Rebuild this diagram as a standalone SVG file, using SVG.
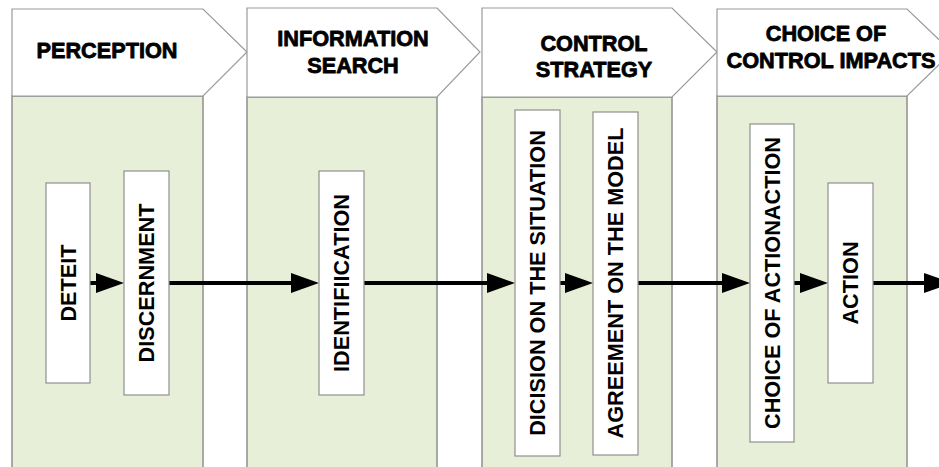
<svg xmlns="http://www.w3.org/2000/svg" width="939" height="467" viewBox="0 0 939 467">
  <defs>
    <style>
      .body { fill: #e8efd8; stroke: #8f8f8f; stroke-width: 1.5; }
      .head { fill: #ffffff; stroke: #9a9a9a; stroke-width: 1.2; }
      .box { fill: #ffffff; stroke: #8f8f8f; stroke-width: 1.2; }
      .t { font-family: "Liberation Sans", Arial, sans-serif; font-weight: bold; font-size: 21.7px; fill: #000; text-anchor: middle; }
      .h { stroke: #000; stroke-width: 0.8; stroke-linejoin: round; }
      .conn { stroke: #000; stroke-width: 4; fill: none; marker-end: url(#ah); }
    </style>
    <marker id="ah" markerUnits="userSpaceOnUse" markerWidth="28" markerHeight="20" refX="14" refY="10" orient="auto">
      <path d="M0,0 L28,10 L0,20 z" fill="#000"/>
    </marker>
  </defs>
  <rect width="939" height="467" fill="#ffffff"/>

  <g id="stage-perception">
    <rect class="body" x="12" y="96" width="191" height="380"/>
    <polygon class="head" points="12,9 203,9 247,52 203,96 12,96"/>
    <text class="t h" x="107" y="58">PERCEPTION</text>
  </g>
  <g id="stage-information-search">
    <rect class="body" x="247" y="97" width="190" height="380"/>
    <polygon class="head" points="247,8 437,8 480,52 437,97 247,97"/>
    <text class="t h" x="353" y="46">INFORMATION</text>
    <text class="t h" x="353" y="73">SEARCH</text>
  </g>
  <g id="stage-control-strategy">
    <rect class="body" x="482" y="97" width="190" height="380"/>
    <polygon class="head" points="482,8 672,8 717,52 672,97 482,97"/>
    <text class="t h" x="594" y="51">CONTROL</text>
    <text class="t h" x="594" y="77">STRATEGY</text>
  </g>
  <g id="stage-choice-of-control-impacts">
    <rect class="body" x="717" y="96" width="190" height="380"/>
    <polygon class="head" points="717,9 907,9 952,52 907,96 717,96"/>
    <text class="t h" x="826" y="41">CHOICE OF</text>
    <text class="t h" x="831" y="68">CONTROL IMPACTS</text>
  </g>

  <g id="connectors">
    <line class="conn" x1="89" y1="283" x2="110" y2="283" stroke-linecap="round"/>
    <line class="conn" x1="169" y1="283" x2="305" y2="283"/>
    <line class="conn" x1="364" y1="283" x2="501" y2="283"/>
    <line class="conn" x1="560" y1="283" x2="579" y2="283" stroke-linecap="round"/>
    <line class="conn" x1="638" y1="283" x2="736" y2="283"/>
    <line class="conn" x1="794" y1="283" x2="814" y2="283" stroke-linecap="round"/>
    <line class="conn" x1="873" y1="283" x2="938" y2="283"/>
  </g>

  <g id="node-deteit">
    <rect class="box" x="46" y="183" width="44" height="200"/>
    <text class="t" transform="translate(75.8,283) rotate(-90)">DETEIT</text>
  </g>
  <g id="node-discernment">
    <rect class="box" x="124" y="171" width="45" height="224"/>
    <text class="t" transform="translate(154.3,283) rotate(-90)">DISCERNMENT</text>
  </g>
  <g id="node-identification">
    <rect class="box" x="319" y="171" width="45" height="224"/>
    <text class="t" transform="translate(349.3,283) rotate(-90)">IDENTIFIICATION</text>
  </g>
  <g id="node-decision">
    <rect class="box" x="515" y="110" width="45" height="346"/>
    <text class="t" transform="translate(545.3,283) rotate(-90)">DICISION ON THE SITUATION</text>
  </g>
  <g id="node-agreement">
    <rect class="box" x="593" y="112" width="45" height="343"/>
    <text class="t" transform="translate(623.3,283) rotate(-90)">AGREEMENT ON THE MODEL</text>
  </g>
  <g id="node-choice-of-action">
    <rect class="box" x="750" y="124" width="44" height="318"/>
    <text class="t" transform="translate(779.8,283) rotate(-90)">CHOICE OF ACTIONACTION</text>
  </g>
  <g id="node-action">
    <rect class="box" x="828" y="183" width="45" height="200"/>
    <text class="t" transform="translate(858.3,283) rotate(-90)">ACTION</text>
  </g>
</svg>
